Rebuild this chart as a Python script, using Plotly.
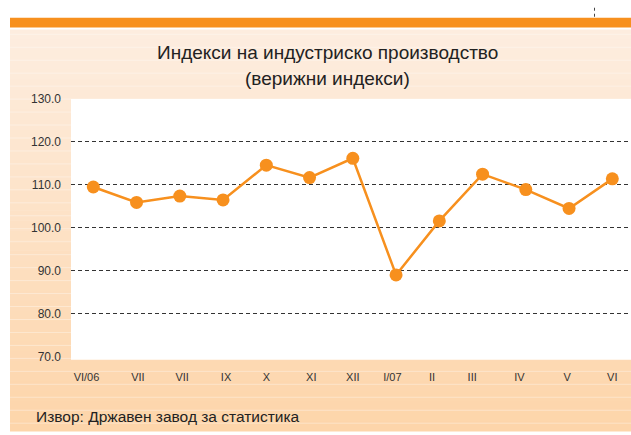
import plotly.graph_objects as go

# ---- data ----
month_labels = ["VI/06", "VII", "VII", "IX", "X", "XI", "XII", "I/07", "II", "III", "IV", "V", "VI"]
index_values = [109.5, 105.9, 107.4, 106.5, 114.6, 111.7, 116.2, 89.0, 101.6, 112.5, 108.9, 104.5, 111.4]
y_tick_values = [70, 80, 90, 100, 110, 120, 130]
grid_values = [80, 90, 100, 110, 120]

title_lines = ["Индекси на индустриско производство", "(верижни индекси)"]
source_text = "Извор: Државен завод за статистика"

# ---- style ----
# small horizontal nudges (pixels) of the month labels, as in the original layout
tick_nudge_px = [-6.8, 1.3, 2.3, 3.0, 0.0, 1.7, 0.0, -3.7, -7.3, -10.4, -6.4, -2.0, 0.0]

W, H = 631, 435
FONT = "Liberation Sans, Arial, sans-serif"
ORANGE = "#f7901e"
SLOT_PX = 43.25


def px(x):
    return x / W


def py(y):
    return 1 - y / H


x_idx = list(range(len(month_labels)))
tick_pos = [i + d / SLOT_PX for i, d in zip(x_idx, tick_nudge_px)]

fig = go.Figure()
fig.add_trace(go.Scatter(
    x=x_idx, y=index_values, mode="lines+markers",
    line=dict(color=ORANGE, width=2.5),
    marker=dict(color=ORANGE, size=13, line=dict(width=0)),
    hoverinfo="skip", showlegend=False,
))
# invisible trace to activate the overlay grid axis
fig.add_trace(go.Scatter(x=[x_idx[0]], y=[grid_values[0]], yaxis="y2", mode="markers",
                         marker=dict(opacity=0), hoverinfo="skip", showlegend=False))

shapes = []
# background gradient panel
top_c = (253, 237, 223)
bot_c = (253, 213, 170)
y0, y1 = 23, 435
n = 40
for i in range(n):
    t = i / (n - 1)
    c = tuple(int(round(top_c[k] + (bot_c[k] - top_c[k]) * t)) for k in range(3))
    ya = y0 + (y1 - y0) * i / n
    yb = y0 + (y1 - y0) * (i + 1) / n + 0.6
    shapes.append(dict(type="rect", xref="paper", yref="paper", x0=px(10), x1=1,
                       y0=py(yb), y1=py(ya), fillcolor="rgb(%d,%d,%d)" % c,
                       line=dict(width=0), layer="below"))
# faint stripes
yy = 28
while yy < 435:
    shapes.append(dict(type="line", xref="paper", yref="paper", x0=px(10), x1=1,
                       y0=py(yy), y1=py(yy), line=dict(color="rgba(255,255,255,0.35)", width=1),
                       layer="below"))
    yy += 13.3
# orange top bar
shapes.append(dict(type="rect", xref="paper", yref="paper", x0=px(10), x1=1,
                   y0=py(21), y1=py(11), fillcolor=ORANGE, line=dict(width=0), layer="below"))
# dotted marker at top right
shapes.append(dict(type="line", xref="paper", yref="paper", x0=px(594.5), x1=px(594.5),
                   y0=py(10), y1=py(0), line=dict(color="#444", width=1, dash="dot"), layer="below"))
# white plot area
shapes.append(dict(type="rect", xref="paper", yref="paper", x0=px(71), x1=1,
                   y0=py(362), y1=py(94.5), fillcolor="white", line=dict(width=0), layer="below"))

annotations = [
    dict(text=title_lines[0], xref="paper", yref="paper",
         x=px(327), y=py(46.5), xanchor="center", yanchor="middle", showarrow=False,
         font=dict(family=FONT, size=19, color="#222")),
    dict(text=title_lines[1], xref="paper", yref="paper",
         x=px(327), y=py(73), xanchor="center", yanchor="middle", showarrow=False,
         font=dict(family=FONT, size=19, color="#222")),
    dict(text=source_text, xref="paper", yref="paper", x=px(34), y=py(420),
         xanchor="left", yanchor="middle", showarrow=False,
         font=dict(family=FONT, size=15.5, color="#222")),
]

fig.update_layout(
    width=W, height=H, margin=dict(l=0, r=0, t=0, b=0),
    paper_bgcolor="white", plot_bgcolor="rgba(0,0,0,0)",
    shapes=shapes, annotations=annotations,
    xaxis=dict(domain=[px(71), 1], range=[-0.5156, 12.432], tickmode="array",
               tickvals=tick_pos, ticktext=month_labels, showgrid=False, zeroline=False,
               showline=False, ticks="", tickfont=dict(family=FONT, size=11, color="#333"),
               ticklabelstandoff=9),
    yaxis=dict(domain=[py(362), py(94.5)], range=[69.2, 130], tickmode="array",
               tickvals=y_tick_values, ticktext=["%.1f" % v for v in y_tick_values],
               showgrid=False, zeroline=False, showline=False, ticks="",
               tickfont=dict(family=FONT, size=12, color="#333"), ticklabelstandoff=9),
    yaxis2=dict(domain=[py(362), py(94.5)], range=[69.2, 130], overlaying="y",
                tickmode="array", tickvals=grid_values, showticklabels=False,
                showgrid=True, gridcolor="#333", gridwidth=1, griddash="4px,3px",
                zeroline=False, showline=False),
)

fig.write_html("out.html", config={"displayModeBar": False},
               post_script="document.body.style.margin='0';")
